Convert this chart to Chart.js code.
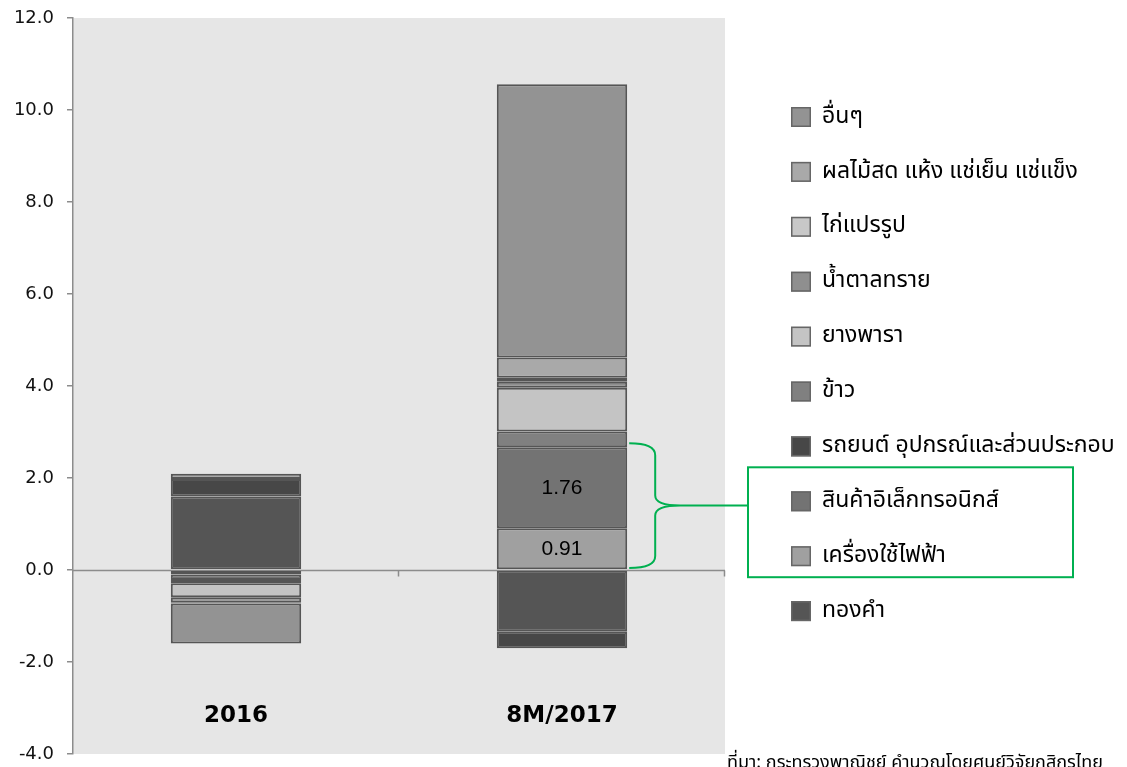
<!DOCTYPE html>
<html lang="th">
<head>
<meta charset="utf-8">
<title>Export growth contribution</title>
<script src="https://cdn.jsdelivr.net/npm/chart.js@4"></script>
<style>
  html, body { margin: 0; padding: 0; background: #fff; }
  #wrap { width: 1127px; height: 767px; }
</style>
</head>
<body>
<div id="wrap"><canvas id="exports" width="1127" height="767"></canvas></div>
<script>
"use strict";

// categories and series (stack order, bottom first)
const categories = ["2016", "8M/2017"];
const seriesNames = [
  "ทองคำ",
  "เครื่องใช้ไฟฟ้า",
  "สินค้าอิเล็กทรอนิกส์",
  "รถยนต์ อุปกรณ์และส่วนประกอบ",
  "ข้าว",
  "ยางพารา",
  "น้ำตาลทราย",
  "ไก่แปรรูป",
  "ผลไม้สด แห้ง แช่เย็น แช่แข็ง",
  "อื่นๆ",
];
const gold = [1.6, -1.34];
const appliances = [-0.1, 0.91];
const electronics = [-0.12, 1.76];
const autos = [0.38, -0.36];
const rice = [-0.07, 0.34];
const rubber = [-0.3, 0.95];
const sugar = [-0.12, 0.13];
const chicken = [-0.02, 0.09];
const fruit = [0.11, 0.44];
const others = [-0.87, 5.94];

const yMin = -4;
const yMax = 12;
const yStep = 2;

const sourceNote = "ที่มา: กระทรวงพาณิชย์ คำนวณโดยศูนย์วิจัยกสิกรไทย";

const seriesValues = [gold, appliances, electronics, autos, rice, rubber, sugar, chicken, fruit, others];
const seriesColors = [
  "#555555", "#a0a0a0", "#737373", "#474747", "#808080",
  "#c4c4c4", "#8f8f8f", "#c8c8c8", "#a9a9a9", "#939393",
];
// only these two segments carry value labels
const labelled = [1, 2];

const thaiFont = '"Noto Sans Thai", Tahoma, "DejaVu Sans", sans-serif';
const green = "#00b050";

const plotBackground = {
  id: "plotBackground",
  beforeDraw(chart) {
    const { ctx, chartArea } = chart;
    ctx.save();
    ctx.fillStyle = "#e6e6e6";
    ctx.fillRect(chartArea.left, chartArea.top, chartArea.right - chartArea.left, chartArea.bottom - chartArea.top);
    ctx.restore();
  },
};

const zeroAxis = {
  id: "zeroAxis",
  beforeDatasetsDraw(chart) {
    const { ctx, chartArea, scales } = chart;
    const y0 = Math.round(scales.y.getPixelForValue(0)) + 0.5;
    const step = scales.x.getPixelForValue(1) - scales.x.getPixelForValue(0);
    ctx.save();
    ctx.strokeStyle = "#8c8c8c";
    ctx.lineWidth = 1.5;
    ctx.beginPath();
    ctx.moveTo(chartArea.left, y0);
    ctx.lineTo(chartArea.right, y0);
    categories.forEach((c, i) => {
      const xb = Math.round(scales.x.getPixelForValue(i) + step / 2) - 0.5;
      ctx.moveTo(xb, y0);
      ctx.lineTo(xb, y0 + 6);
    });
    ctx.stroke();
    ctx.restore();
  },
};

const overlay = {
  id: "overlay",
  afterDraw(chart) {
    const { ctx, chartArea, scales } = chart;
    ctx.save();

    // category names inside the plot, near the bottom
    ctx.fillStyle = "#000";
    ctx.font = 'bold 23px "DejaVu Sans", Verdana, sans-serif';
    ctx.textAlign = "center";
    ctx.textBaseline = "middle";
    categories.forEach((c, i) => {
      ctx.fillText(c, scales.x.getPixelForValue(i), chartArea.bottom - 38);
    });

    // value labels on highlighted segments
    ctx.font = '21px "Liberation Sans", Arial, sans-serif';
    labelled.forEach((d) => {
      const el = chart.getDatasetMeta(d).data[1];
      const p = el.getCenterPoint();
      ctx.fillText(seriesValues[d][1].toFixed(2), p.x, p.y + 1);
    });

    // legend (top item is the last series)
    const legX = 791;
    const legTop = 117;
    const legStep = 54.9;
    const itemY = (k) => legTop + k * legStep;
    ctx.textAlign = "left";
    ctx.font = "23px " + thaiFont;
    for (let k = 0; k < seriesNames.length; k++) {
      const s = seriesNames.length - 1 - k;
      const y = itemY(k);
      ctx.fillStyle = seriesColors[s];
      ctx.fillRect(legX, y - 10, 20, 20);
      ctx.strokeStyle = "#666";
      ctx.lineWidth = 1.5;
      ctx.strokeRect(legX + 0.75, y - 9.25, 18.5, 18.5);
      ctx.fillStyle = "#000";
      ctx.fillText(seriesNames[s], legX + 31, y + 1);
    }

    // green bracket around the two highlighted segments
    const bar = chart.getDatasetMeta(2).data[1];
    const x0 = bar.x + bar.width / 2 + 2;
    const top = scales.y.getPixelForValue(appliances[1] + electronics[1]) - 4;
    const bottom = scales.y.getPixelForValue(0) - 2;
    const mid = (top + bottom) / 2;
    const xv = x0 + 26;
    const xTip = xv + 25;
    const boxL = 748;
    const boxR = 1073;
    const boxT = itemY(7) - 34;
    const boxB = itemY(8) + 21;
    ctx.strokeStyle = green;
    ctx.lineWidth = 2;
    ctx.beginPath();
    ctx.moveTo(x0, top);
    ctx.quadraticCurveTo(xv, top, xv, top + 12);
    ctx.lineTo(xv, mid - 10);
    ctx.quadraticCurveTo(xv, mid, xTip, mid);
    ctx.quadraticCurveTo(xv, mid, xv, mid + 10);
    ctx.lineTo(xv, bottom - 12);
    ctx.quadraticCurveTo(xv, bottom, x0, bottom);
    ctx.moveTo(xTip - 8, mid);
    ctx.lineTo(boxL, mid);
    ctx.stroke();
    ctx.strokeRect(boxL, boxT, boxR - boxL, boxB - boxT);

    // source note
    ctx.fillStyle = "#000";
    ctx.font = "18px " + thaiFont;
    ctx.textBaseline = "middle";
    ctx.fillText(sourceNote, 727, 764);
    ctx.restore();
  },
};

const exportsChart = new Chart(document.getElementById("exports"), {
  type: "bar",
  data: {
    labels: categories,
    datasets: seriesNames.map((name, i) => ({
      label: name,
      data: seriesValues[i],
      backgroundColor: seriesColors[i],
      borderColor: "#555555",
      borderWidth: 2,
      borderSkipped: false,
      barPercentage: 0.4,
      categoryPercentage: 1,
    })),
  },
  options: {
    responsive: false,
    animation: false,
    devicePixelRatio: 1,
    layout: {
      padding: { top: 18, right: 402, bottom: 13, left: 0 },
    },
    plugins: {
      legend: { display: false },
      tooltip: { enabled: false },
    },
    scales: {
      x: {
        stacked: true,
        display: false,
      },
      y: {
        stacked: true,
        min: yMin,
        max: yMax,
        afterFit: (scale) => {
          scale.width = 73;
          // let the end labels overhang instead of shrinking the plot
          scale.paddingTop = 0;
          scale.paddingBottom = 0;
        },
        ticks: {
          stepSize: yStep,
          padding: 13,
          color: "#111",
          font: { family: '"DejaVu Sans", Verdana, sans-serif', size: 18 },
          callback: (v) => Number(v).toFixed(1),
        },
        grid: {
          drawOnChartArea: false,
          drawTicks: true,
          tickLength: 6,
          color: "#8c8c8c",
          lineWidth: 1.5,
        },
        border: { color: "#8c8c8c", width: 1.5 },
      },
    },
  },
  plugins: [plotBackground, zeroAxis, overlay],
});
</script>
</body>
</html>
